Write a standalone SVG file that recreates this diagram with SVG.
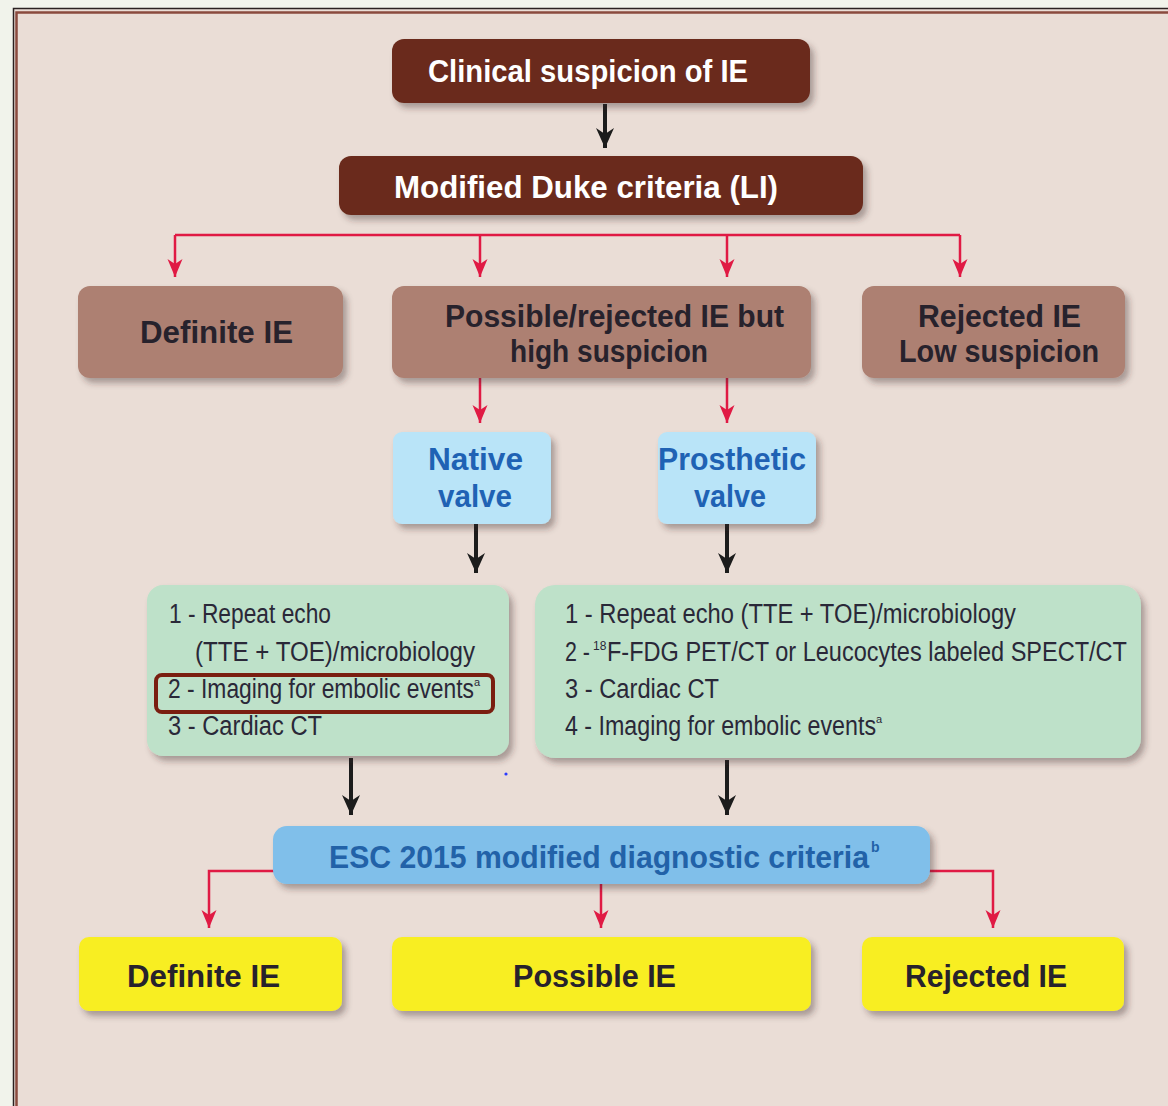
<svg xmlns="http://www.w3.org/2000/svg" width="1168" height="1106" viewBox="0 0 1168 1106">
<defs>
<style>
.bold{font-family:"Liberation Sans",Arial,sans-serif;font-weight:bold;}
.reg{font-family:"Liberation Sans",Arial,sans-serif;}
.wt{fill:#ffffff;}
.dk{fill:#27222c;}
.bl{fill:#1f62b4;}
.lst{fill:#2a2838;font-size:27px;}
.sup{font-size:11px;}
.red{stroke:#e01a44;stroke-width:2.5;fill:none;}
.blk{stroke:#1c1c1c;stroke-width:4;fill:none;}
</style>
<filter id="sh" x="-10%" y="-20%" width="125%" height="150%">
<feDropShadow dx="4" dy="5" stdDeviation="3" flood-color="#3a2a24" flood-opacity="0.38"/>
</filter>
<marker id="ar" markerUnits="userSpaceOnUse" markerWidth="22" markerHeight="18" viewBox="0 -9 20 18" refX="18" refY="0" orient="auto">
<path d="M0,-7.5 L18,0 L0,7.5 L5,0 z" fill="#e01a44"/>
</marker>
<marker id="ab" markerUnits="userSpaceOnUse" markerWidth="24" markerHeight="20" viewBox="0 -10 22 20" refX="20" refY="0" orient="auto">
<path d="M0,-9 L20,0 L0,9 L6,0 z" fill="#1c1c1c"/>
</marker>
</defs>

<rect x="0" y="0" width="1168" height="1106" fill="#f1f3eb"/>
<rect x="13" y="8" width="1200" height="1200" fill="#eaddd6"/>
<rect x="13.5" y="8.5" width="1200" height="1200" fill="none" stroke="#2a2020" stroke-width="1.5"/>
<rect x="16.5" y="12.5" width="1200" height="1200" fill="none" stroke="#8a4a3e" stroke-width="2.5"/>

<g id="connectors">
<line class="blk" x1="605" y1="104" x2="605" y2="148" marker-end="url(#ab)"/>
<path class="red" d="M175,235 H960"/>
<line class="red" x1="175" y1="235" x2="175" y2="277" marker-end="url(#ar)"/>
<line class="red" x1="480" y1="235" x2="480" y2="277" marker-end="url(#ar)"/>
<line class="red" x1="727" y1="235" x2="727" y2="277" marker-end="url(#ar)"/>
<line class="red" x1="960" y1="235" x2="960" y2="277" marker-end="url(#ar)"/>
<line class="red" x1="480" y1="378" x2="480" y2="423" marker-end="url(#ar)"/>
<line class="red" x1="727" y1="378" x2="727" y2="423" marker-end="url(#ar)"/>
<line class="blk" x1="476" y1="524" x2="476" y2="573" marker-end="url(#ab)"/>
<line class="blk" x1="727" y1="524" x2="727" y2="573" marker-end="url(#ab)"/>
<line class="blk" x1="351" y1="758" x2="351" y2="815" marker-end="url(#ab)"/>
<line class="blk" x1="727" y1="760" x2="727" y2="815" marker-end="url(#ab)"/>
<path class="red" d="M274,871 H209 V928" marker-end="url(#ar)"/>
<line class="red" x1="601" y1="884" x2="601" y2="928" marker-end="url(#ar)"/>
<path class="red" d="M929,871 H993 V928" marker-end="url(#ar)"/>
</g>

<g id="n-clinical">
<rect x="392" y="39" width="418" height="64" rx="12" fill="#6b2c1c" filter="url(#sh)"/>
<text class="bold wt" x="428" y="82" font-size="32" textLength="320" lengthAdjust="spacingAndGlyphs">Clinical suspicion of IE</text>
</g>

<g id="n-duke">
<rect x="339" y="156" width="524" height="59" rx="12" fill="#6b2c1c" filter="url(#sh)"/>
<text class="bold wt" x="394" y="198" font-size="32" textLength="384" lengthAdjust="spacingAndGlyphs">Modified Duke criteria (LI)</text>
</g>

<g id="n-definite1">
<rect x="78" y="286" width="265" height="92" rx="12" fill="#ad8072" filter="url(#sh)"/>
<text class="bold dk" x="140" y="343" font-size="32" textLength="153" lengthAdjust="spacingAndGlyphs">Definite IE</text>
</g>

<g id="n-possible1">
<rect x="392" y="286" width="419" height="92" rx="12" fill="#ad8072" filter="url(#sh)"/>
<text class="bold dk" x="445" y="327" font-size="32" textLength="339" lengthAdjust="spacingAndGlyphs">Possible/rejected IE but</text>
<text class="bold dk" x="510" y="362" font-size="32" textLength="198" lengthAdjust="spacingAndGlyphs">high suspicion</text>
</g>

<g id="n-rejected1">
<rect x="862" y="286" width="263" height="92" rx="12" fill="#ad8072" filter="url(#sh)"/>
<text class="bold dk" x="918" y="327" font-size="32" textLength="163" lengthAdjust="spacingAndGlyphs">Rejected IE</text>
<text class="bold dk" x="899" y="362" font-size="32" textLength="200" lengthAdjust="spacingAndGlyphs">Low suspicion</text>
</g>

<g id="n-native">
<rect x="393" y="432" width="158" height="92" rx="9" fill="#b9e4f8" filter="url(#sh)"/>
<text class="bold bl" x="428" y="470" font-size="32" textLength="95" lengthAdjust="spacingAndGlyphs">Native</text>
<text class="bold bl" x="438" y="507" font-size="32" textLength="74" lengthAdjust="spacingAndGlyphs">valve</text>
</g>

<g id="n-prosthetic">
<rect x="658" y="432" width="158" height="92" rx="9" fill="#b9e4f8" filter="url(#sh)"/>
<text class="bold bl" x="658" y="470" font-size="32" textLength="148" lengthAdjust="spacingAndGlyphs">Prosthetic</text>
<text class="bold bl" x="694" y="507" font-size="32" textLength="72" lengthAdjust="spacingAndGlyphs">valve</text>
</g>

<g id="n-native-list">
<rect x="147" y="585" width="362" height="171" rx="16" fill="#bee1c9" filter="url(#sh)"/>
<text class="reg lst" x="169" y="623" textLength="162" lengthAdjust="spacingAndGlyphs">1 - Repeat echo</text>
<text class="reg lst" x="195" y="661" textLength="280" lengthAdjust="spacingAndGlyphs">(TTE + TOE)/microbiology</text>
<text class="reg lst" x="168" y="698"><tspan textLength="306" lengthAdjust="spacingAndGlyphs">2 - Imaging for embolic events</tspan><tspan class="sup" dy="-12">a</tspan></text>
<text class="reg lst" x="168" y="735" textLength="154" lengthAdjust="spacingAndGlyphs">3 - Cardiac CT</text>
<rect x="156" y="675" width="337" height="37" rx="6" fill="none" stroke="#7a1e10" stroke-width="4"/>
</g>

<g id="n-prosthetic-list">
<rect x="535" y="585" width="606" height="173" rx="20" fill="#bee1c9" filter="url(#sh)"/>
<text class="reg lst" x="565" y="623" textLength="451" lengthAdjust="spacingAndGlyphs">1 - Repeat echo (TTE + TOE)/microbiology</text>
<text class="reg lst" x="565" y="661"><tspan textLength="25" lengthAdjust="spacingAndGlyphs">2 -</tspan><tspan x="593" dy="-11" style="font-size:12px">18</tspan><tspan x="607" dy="11" textLength="520" lengthAdjust="spacingAndGlyphs">F-FDG PET/CT or Leucocytes labeled SPECT/CT</tspan></text>
<text class="reg lst" x="565" y="698" textLength="154" lengthAdjust="spacingAndGlyphs">3 - Cardiac CT</text>
<text class="reg lst" x="565" y="735"><tspan textLength="311" lengthAdjust="spacingAndGlyphs">4 - Imaging for embolic events</tspan><tspan class="sup" dy="-12">a</tspan></text>
</g>

<circle cx="506" cy="774" r="1.6" fill="#2a3aff"/>

<g id="n-esc">
<rect x="273" y="826" width="657" height="58" rx="14" fill="#80bfea" filter="url(#sh)"/>
<text class="bold" x="329" y="868" font-size="32" fill="#2262a8"><tspan textLength="540" lengthAdjust="spacingAndGlyphs">ESC 2015 modified diagnostic criteria</tspan><tspan dx="2" dy="-16" style="font-size:14px">b</tspan></text>
</g>

<g id="n-definite2">
<rect x="79" y="937" width="263" height="74" rx="10" fill="#f8ee22" filter="url(#sh)"/>
<text class="bold dk" x="127" y="987" font-size="32" textLength="153" lengthAdjust="spacingAndGlyphs">Definite IE</text>
</g>

<g id="n-possible2">
<rect x="392" y="937" width="419" height="74" rx="10" fill="#f8ee22" filter="url(#sh)"/>
<text class="bold dk" x="513" y="987" font-size="32" textLength="163" lengthAdjust="spacingAndGlyphs">Possible  IE</text>
</g>

<g id="n-rejected2">
<rect x="862" y="937" width="262" height="74" rx="10" fill="#f8ee22" filter="url(#sh)"/>
<text class="bold dk" x="905" y="987" font-size="32" textLength="162" lengthAdjust="spacingAndGlyphs">Rejected IE</text>
</g>
</svg>
